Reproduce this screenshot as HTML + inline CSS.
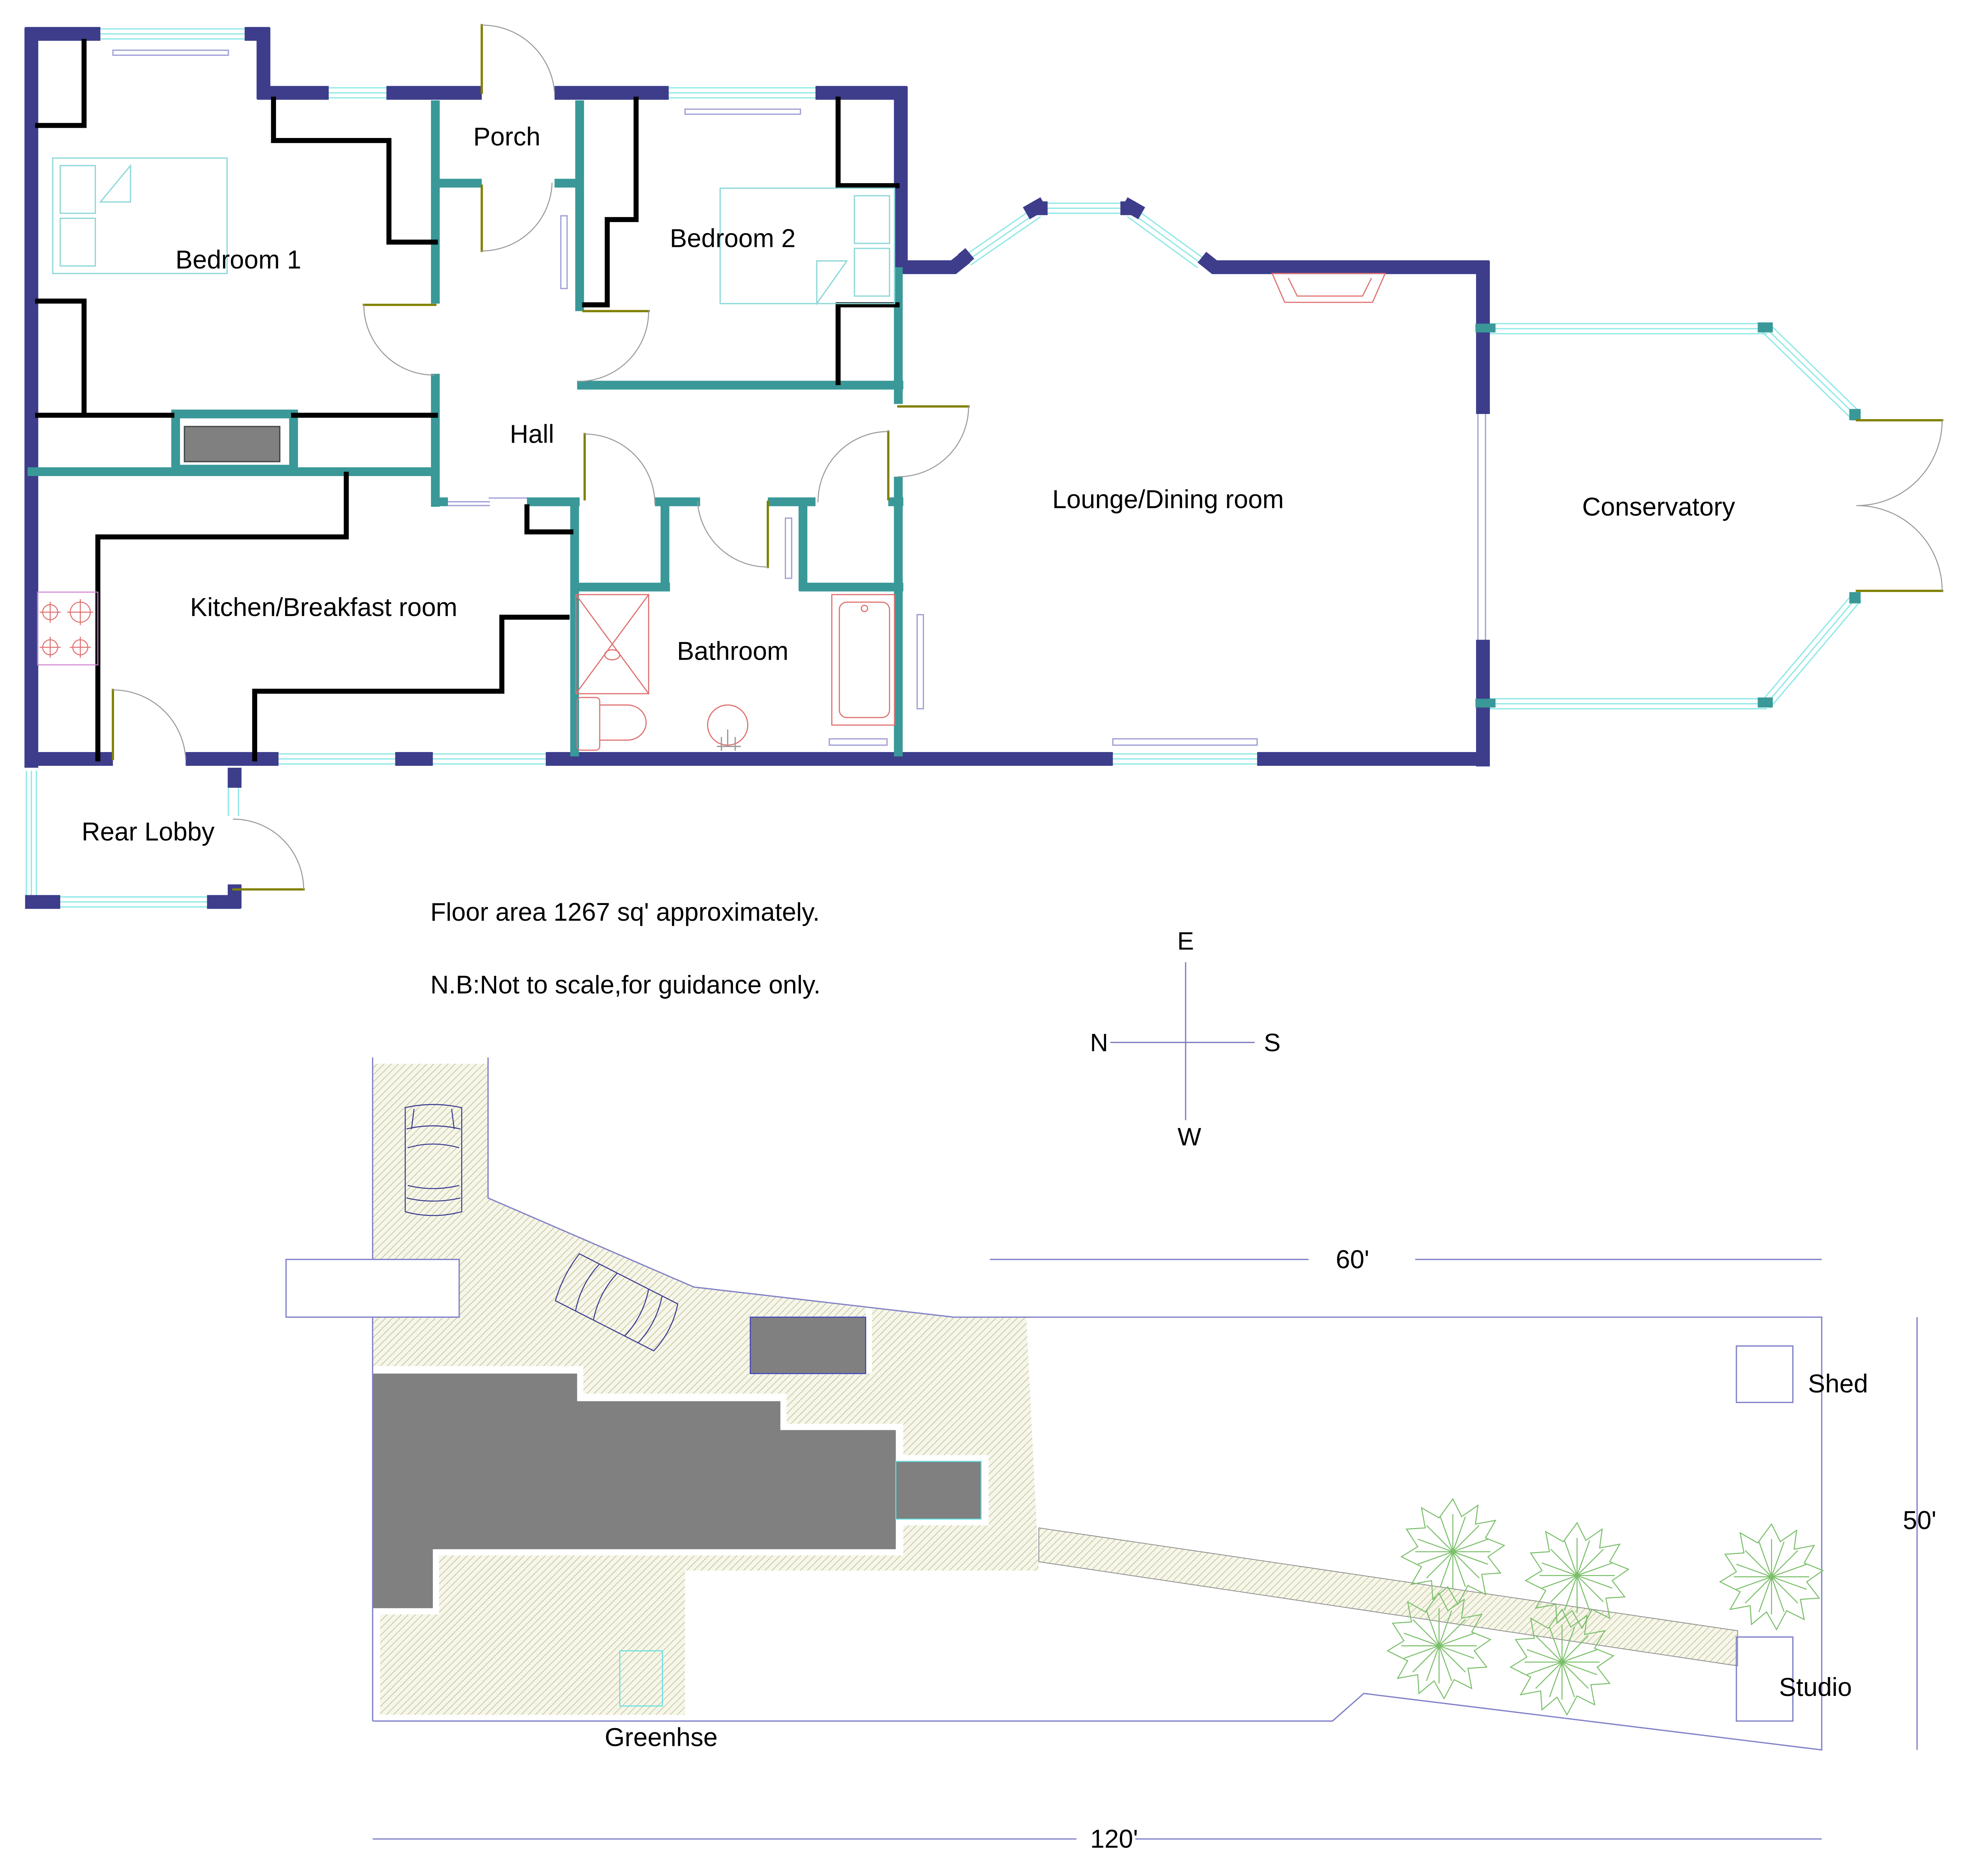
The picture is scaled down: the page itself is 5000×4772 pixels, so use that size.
<!DOCTYPE html>
<html><head><meta charset="utf-8"><style>
html,body{margin:0;padding:0;background:#fff;}
svg{display:block;}
text{font-family:"Liberation Sans",Arial,sans-serif;fill:#000;}
</style></head><body>
<svg width="5000" height="4772" viewBox="0 0 1567 1495.5" xmlns="http://www.w3.org/2000/svg">
<defs>
<pattern id="h" width="4" height="4" patternUnits="userSpaceOnUse" patternTransform="rotate(45)">
<rect width="4" height="4" fill="#f6f6ea"/><line x1="0" y1="0" x2="0" y2="4" stroke="#c8c8a0" stroke-width="1.2"/>
</pattern>
<g id="tree" fill="none" stroke="#7abf6a" stroke-width="0.8">
<polygon points="0,-42 7,-28 20,-37 18,-22 34,-25 26,-11 41,-5 28,4 38,17 23,18 26,34 12,27 4,42 -4,28 -16,38 -17,23 -33,26 -25,12 -41,4 -28,-4 -37,-18 -22,-19 -25,-35 -11,-27"/>
<path d="M0,-30 L0,30 M-30,0 L30,0 M-21,-21 L21,21 M-21,21 L21,-21 M-10,-28 L10,28 M-28,10 L28,-10 M10,-28 L-10,28 M28,10 L-28,-10"/>
</g>
</defs>

<g fill="none" stroke-linecap="square">
<g stroke="#8ee8e8" stroke-width="1">
<path d="M80,23 H195 M80,27 H195 M80,31 H195"/>
<path d="M262,70 H308 M262,74 H308 M262,78 H308"/>
<path d="M533,70 H650 M533,74 H650 M533,78 H650"/>
<path d="M835,162 H893 M835,166 H893 M835,170 H893"/>
<path d="M770,203 L825,165 M772,207 L827,169 M774,211 L829,173"/>
<path d="M903,165 L958,205 M901,169 L956,209 M899,173 L954,213"/>
<path d="M222,601 H315 M222,605 H315 M222,609 H315"/>
<path d="M345,601 H435 M345,605 H435 M345,609 H435"/>
<path d="M887,601 H1002 M887,605 H1002 M887,609 H1002"/>
<path d="M21,615 V715 M25,615 V715 M29,615 V715"/>
<path d="M48,715 H165 M48,719 H165 M48,723 H165"/>
<path d="M1185,258 H1408 M1185,262 H1408 M1185,266 H1408"/>
<path d="M1185,557 H1408 M1185,561 H1408 M1185,565 H1408"/>
<path d="M1408,262 L1480,332 M1411,259 L1483,329 M1405,265 L1477,335"/>
<path d="M1408,561 L1480,476 M1411,564 L1483,479 M1405,558 L1477,473"/>
<path d="M182,615 V650 M190,615 V650"/>
</g>
<g stroke="#a0a0d8" stroke-width="1">
<rect x="90" y="40" width="92" height="4"/>
<rect x="546" y="87" width="92" height="4"/>
<rect x="887" y="589" width="115" height="5"/>
<rect x="661" y="589" width="46" height="5"/>
<rect x="447" y="172" width="5" height="58"/>
<rect x="626" y="413" width="5" height="48"/>
<rect x="731" y="490" width="5" height="75"/>
<path d="M1178,330 V510 M1184,330 V510"/>
<path d="M357,400 H390 M390,397 H420 M357,403 H390"/>
</g>
<g stroke="#3d3d8c" stroke-width="11" stroke-linecap="butt">
<path d="M25,22 V612"/>
<path d="M20,27 H80 M195,27 H215 M210,22 V79"/>
<path d="M205,74 H262 M308,74 H384 M442,74 H533 M650,74 H723"/>
<path d="M718,69 V218"/>
<path d="M718,213 H760 L770,205 M825,166 H835 M818,170 L832,162 M893,166 H905 M896,162 L910,170 M958,205 L968,213 H1187"/>
<path d="M1182,208 V330 M1182,510 V611"/>
<path d="M20,605 H90 M148,605 H222 M315,605 H345 M435,605 H887 M1002,605 H1187"/>
<path d="M20,719 H48 M165,719 H192 M187,705 V724 M187,612 V628"/>
<path d="M773,202 L767,207"/>
</g>
<g fill="#3a9898">
<rect x="1176" y="258" width="16" height="7"/><rect x="1176" y="557" width="16" height="7"/>
<rect x="1401" y="257" width="12" height="8"/><rect x="1401" y="556" width="12" height="8"/>
<rect x="1474" y="326" width="9" height="9"/><rect x="1474" y="472" width="9" height="9"/>
</g>
<g stroke="#3a9898" stroke-width="7" stroke-linecap="butt">
<path d="M347,80 V242 M347,298 V404"/>
<path d="M344,146 H384 M442,146 H465"/>
<path d="M462,80 V248"/>
<path d="M460,307 H720"/>
<path d="M716,213 V322 M716,380 V603"/>
<path d="M22,376 H350"/>
<path d="M344,400 H357 M420,400 H462 M522,400 H558 M612,400 H650 M708,400 H720"/>
<path d="M458,397 V603"/>
<path d="M455,468 H534 M530,397 V471"/>
<path d="M640,397 V471 M637,468 H720"/>
</g>
<rect x="140" y="330" width="94" height="44" fill="#fff" stroke="#3a9898" stroke-width="7"/>
<rect x="147" y="340" width="76" height="28" fill="#808080" stroke="#444" stroke-width="1"/>
<g stroke="#000" stroke-width="4">
<path d="M30,100 H67 V33"/>
<path d="M218,79 V112 H310 V193 H347"/>
<path d="M30,240 H67 V330"/>
<path d="M30,331 H137 M234,331 H347"/>
<path d="M507,79 V175 H484 V243 H466"/>
<path d="M668,79 V148 H715 M715,243 H668 V305"/>
<path d="M276,378 V428 H78 V605"/>
<path d="M452,492 H400 V551 H203 V605"/>
<path d="M420,404 V424 H455"/>
</g>
<g stroke="#808000" stroke-width="1.8">
<path d="M384,20 V74 M384,148 V200 M290,243 H347 M465,248 H517 M466,346 V398 M612,400 V452 M708,344 V398 M716,324 H772 M90,550 V605 M1480,335 H1548 M1480,471 H1548 M186,709 H242"/>
</g>
<g stroke="#999" stroke-width="0.8">
<path d="M384,20 A58,58 0 0 1 442,74"/>
<path d="M384,200 A56,56 0 0 0 440,146"/>
<path d="M290,243 A56,56 0 0 0 346,299"/>
<path d="M517,248 A56,56 0 0 1 461,304"/>
<path d="M466,346 A56,56 0 0 1 522,402"/>
<path d="M612,452 A56,56 0 0 1 556,400"/>
<path d="M708,344 A56,56 0 0 0 652,400"/>
<path d="M772,324 A56,56 0 0 1 716,380"/>
<path d="M90,550 A58,58 0 0 1 148,605"/>
<path d="M1548,335 A68,68 0 0 1 1480,403 M1548,471 A68,68 0 0 0 1480,403"/>
<path d="M242,709 A56,56 0 0 0 186,653"/>
</g>
<g stroke="#8ed8d8" stroke-width="1">
<rect x="42" y="126" width="139" height="92"/>
<rect x="48" y="132" width="28" height="38"/><rect x="48" y="174" width="28" height="38"/>
<path d="M80,161 L104,132 V161 H80"/>
<rect x="574" y="150" width="139" height="92"/>
<rect x="681" y="156" width="28" height="38"/><rect x="681" y="198" width="28" height="38"/>
<path d="M651,242 L675,208 H651 Z"/>
</g>
<g stroke="#e07070" stroke-width="0.8">
<rect x="30" y="472" width="48" height="58" stroke="#d080d0"/>
<circle cx="40" cy="488" r="6"/><circle cx="64" cy="488" r="8"/>
<circle cx="40" cy="516" r="6"/><circle cx="64" cy="516" r="6"/>
<path d="M32,488 H48 M40,480 V496 M54,488 H74 M64,478 V498 M32,516 H48 M40,508 V524 M56,516 H72 M64,508 V524"/>
</g>
<g stroke="#e07070" stroke-width="0.9">
<rect x="459" y="474" width="58" height="79"/>
<path d="M459,474 L517,553 M517,474 L459,553"/><ellipse cx="488" cy="522" rx="6" ry="4"/>
<rect x="460" y="556" width="18" height="42" rx="3"/>
<path d="M478,562 H500 A15,14 0 0 1 500,590 H478"/>
<circle cx="580" cy="578" r="16"/>
<rect x="663" y="474" width="50" height="104"/>
<rect x="669" y="480" width="40" height="92" rx="6"/>
<circle cx="689" cy="485" r="2.5"/>
</g>
<path d="M572,595 H590 M575,588 V598 M586,588 V598 M580,582 V594" stroke="#999" stroke-width="1"/>
<g stroke="#e07070" stroke-width="0.9">
<path d="M1014,218 L1024,241 H1094 L1104,218 Z M1027,222 L1034,236 H1086 L1093,222"/>
</g>
</g>

<g font-size="20.5" text-anchor="middle">
<text x="190" y="214">Bedroom 1</text>
<text x="404" y="116">Porch</text>
<text x="584" y="197">Bedroom 2</text>
<text x="424" y="353">Hall</text>
<text x="258" y="491">Kitchen/Breakfast room</text>
<text x="584" y="526">Bathroom</text>
<text x="931" y="405">Lounge/Dining room</text>
<text x="1322" y="411">Conservatory</text>
<text x="118" y="670">Rear Lobby</text>
</g>
<g font-size="20.3">
<text x="343" y="734">Floor area 1267 sq' approximately.</text>
<text x="343" y="792">N.B:Not to scale,for guidance only.</text>
</g>
<g stroke="#8080c0" stroke-width="1"><path d="M885,831 H1000 M945,767 V893"/></g>
<g font-size="20" text-anchor="middle">
<text x="945" y="757">E</text><text x="876" y="838">N</text><text x="1014" y="838">S</text><text x="948" y="913">W</text>
</g>

<polygon points="297,848 389,848 389,955 553,1026 760,1050 818,1050 828,1252 546,1252 546,1367 303,1367 303,1287 297,1287" fill="url(#h)"/>
<polygon points="297,1089 465,1089 465,1111 627,1111 627,1135 720,1135 720,1160 788,1160 788,1216 720,1216 720,1240 350,1240 350,1287 297,1287" fill="#fff"/>
<polygon points="297,1095 460,1095 460,1117 622,1117 622,1140 714,1140 714,1235 345,1235 345,1282 297,1282" fill="#808080"/>
<rect x="714" y="1165" width="68" height="46" fill="#808080" stroke="#60e0e0" stroke-width="0.8"/>
<polygon points="690,1043 695,1043 695,1095 690,1095" fill="#fff"/>
<rect x="598" y="1050" width="92" height="45" fill="#808080" stroke="#4040c0" stroke-width="0.8"/>
<polygon points="828,1218 1385,1300 1385,1328 828,1245" fill="url(#h)" stroke="#888" stroke-width="0.6"/>
<g fill="none" stroke="#8080c8" stroke-width="1">
<path d="M297,1372 V843 M389,843 V955 L553,1026 L760,1050 H1452 V1395 L1087,1350 L1062,1372 H297"/>
<rect x="228" y="1004" width="138" height="46" fill="#fff"/>
<rect x="1384" y="1073" width="45" height="45"/>
<rect x="1384" y="1305" width="45" height="67"/>
<path d="M789,1004 H1043 M1128,1004 H1452"/>
<path d="M1528,1050 V1395"/>
<path d="M297,1466 H858 M905,1466 H1452"/>
</g>
<rect x="494" y="1316" width="34" height="44" fill="none" stroke="#60e0e0" stroke-width="0.8"/>
<g fill="none" stroke="#3a3a90" stroke-width="0.8">
<path d="M323,883 Q345,878 368,883 V966 Q345,972 323,966 Z"/>
<path d="M324,900 Q345,895 367,900 M325,915 Q345,909 366,915 M325,945 Q345,950 366,945 M324,955 Q345,960 367,955 M330,884 L328,900 M360,884 L362,900"/>
<g transform="translate(495,1040) rotate(27)">
<path d="M-48,-21 Q-52,0 -48,21 H40 Q46,0 40,-21 Z"/>
<path d="M-30,-21 Q-36,0 -30,21 M-14,-21 Q-20,0 -14,21 M14,-21 Q20,0 14,21 M26,-21 Q32,0 26,21"/>
</g>
</g>
<use href="#tree" x="1158" y="1237"/>
<use href="#tree" x="1257" y="1256"/>
<use href="#tree" x="1412" y="1257"/>
<use href="#tree" x="1147" y="1312"/>
<use href="#tree" x="1245" y="1325"/>
<g font-size="20.5" text-anchor="middle">
<text x="1078" y="1011">60'</text>
<text x="1530" y="1219">50'</text>
<text x="888" y="1473">120'</text>
<text x="1465" y="1110">Shed</text>
<text x="1447" y="1352">Studio</text>
<text x="527" y="1392">Greenhse</text>
</g>
</svg>
</body></html>
